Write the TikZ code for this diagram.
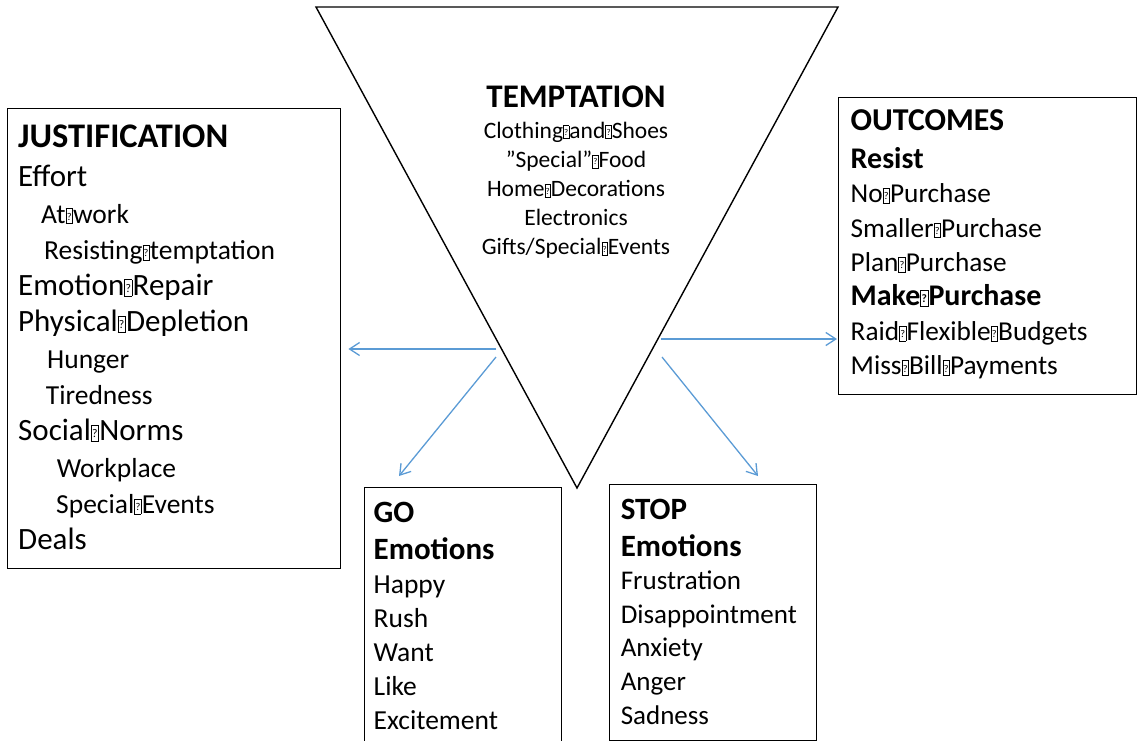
\documentclass[tikz,border=0pt]{standalone}
\usepackage{fontspec}
\setmainfont{Carlito}
\usepackage{graphicx}
\usetikzlibrary{arrows.meta,positioning}

\definecolor{arrblue}{HTML}{5B9BD5}
% missing-glyph box, as printed in place of the spaces
\newcommand{\tofu}{\makebox[0.27em][l]{\setlength{\fboxsep}{0.3pt}\setlength{\fboxrule}{0.5pt}%
  \fbox{\rule{0pt}{0.5em}\makebox[0.2em]{\raisebox{0.1em}{\scalebox{0.38}{?}}}}}}
\newcommand{\hd}[2]{{\fontsize{#1}{#1}\bfseries\selectfont #2}}
\newcommand{\sm}[2]{{\fontsize{#1}{#1}\selectfont #2}}

\begin{document}
\begin{tikzpicture}[
  x=1pt, y=-1pt,
  box/.style={rectangle, draw, line width=1.4pt, anchor=north west, inner sep=0pt},
  txt/.style={align=left, inner sep=0pt, anchor=north west},
  arr/.style={-{Straight Barb[length=10pt,width=13pt]}, draw=arrblue, line width=1.3pt}
]
\useasboundingbox (0,0) rectangle (1138,740);
\clip (0,0) rectangle (1138,740);

% --- Funnel ---
\coordinate (tl)  at (316,7);
\coordinate (tr)  at (838,7);
\coordinate (tip) at (577,488);
\draw[line width=1.4pt] (tl) -- (tr) -- (tip) -- cycle;

\node[align=center, inner sep=0pt, anchor=north,
      font=\fontsize{23.5}{29.2}\selectfont] (tempt) at (576,85.5)
  {\hd{33}{TEMPTATION}\\[1.5pt]
   Clothing\tofu and\tofu Shoes\\
   ”Special”\tofu Food\\
   Home\tofu Decorations\\
   Electronics\\
   Gifts/Special\tofu Events};

% --- Boxes ---
\node[box, minimum width=333pt, minimum height=460pt] (just) at (7,108) {};
\node[txt, font=\fontsize{31}{36.3}\selectfont, below right=16.6pt and 11pt of just.north west] (justtxt)
  {\hd{34.5}{JUSTIFICATION}\\[3pt]
   Effort\\
   \hspace*{23pt}\sm{27.5}{At\tofu work}\\
   \hspace*{26pt}\sm{27.5}{Resisting\tofu temptation}\\
   Emotion\tofu Repair\\
   Physical\tofu Depletion\\
   \hspace*{29pt}\sm{27.5}{Hunger}\\
   \hspace*{27.7pt}\sm{27.5}{Tiredness}\\
   Social\tofu Norms\\
   \hspace*{38.7pt}\sm{27.5}{Workplace}\\
   \hspace*{38pt}\sm{27.5}{Special\tofu Events}\\
   Deals};

\node[box, minimum width=298pt, minimum height=297pt] (outc) at (838,97) {};
\node[txt, font=\fontsize{27.3}{34.45}\selectfont, below right=12.1pt and 12.5pt of outc.north west] (outctxt)
  {\hd{31.8}{OUTCOMES}\\[3.55pt]
   \hd{30}{Resist}\\
   No\tofu Purchase\\
   Smaller\tofu Purchase\\
   Plan\tofu Purchase\\
   \hd{30}{Make\tofu Purchase}\\
   Raid\tofu Flexible\tofu Budgets\\
   Miss\tofu Bill\tofu Payments};

\node[box, minimum width=197pt, minimum height=275pt] (go) at (364,487) {};
\node[txt, font=\fontsize{27.5}{34}\selectfont, below right=14.5pt and 9.5pt of go.north west] (gotxt)
  {\hd{31}{GO}\\[3pt]
   \hd{31}{Emotions}\\
   Happy\\
   Rush\\
   Want\\
   Like\\
   Excitement};

\node[box, minimum width=207pt, minimum height=256pt] (stop) at (609,484) {};
\node[txt, font=\fontsize{27}{33.6}\selectfont, below right=14.5pt and 11.6pt of stop.north west] (stoptxt)
  {\hd{31}{STOP}\\[3.4pt]
   \hd{31}{Emotions}\\
   Frustration\\
   Disappointment\\
   Anxiety\\
   Anger\\
   Sadness};

% --- Arrows ---
\coordinate (l1) at (496,349);
\coordinate (l2) at (496,357);
\coordinate (r1) at (661,339);
\coordinate (r2) at (662,357);
\coordinate (goin)   at (399,476);
\coordinate (stopin) at (758,476);
\draw[arr] (l1) -- ([xshift=7pt]just.east |- l1);
\draw[arr] (l2) -- (goin);
\draw[arr] (r1) -- ([xshift=-1pt]outc.west |- r1);
\draw[arr] (r2) -- (stopin);

\end{tikzpicture}
\end{document}
